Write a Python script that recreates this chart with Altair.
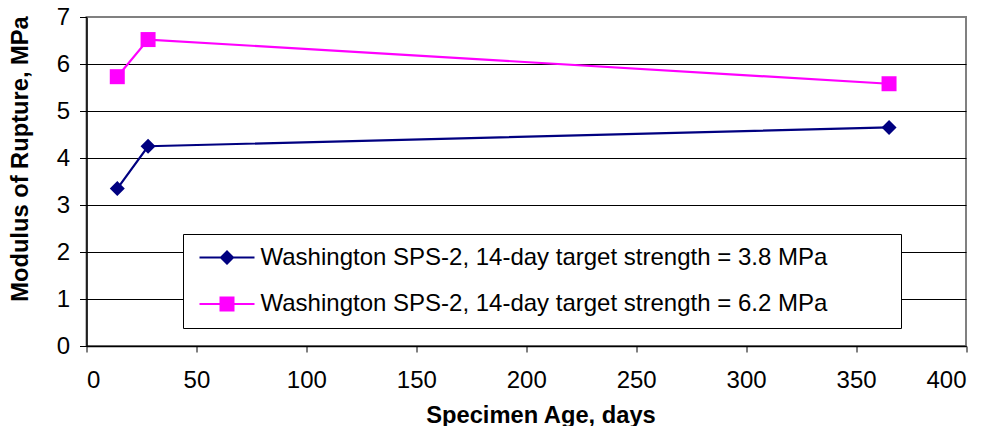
import altair as alt
import pandas as pd

ages = [14, 28, 365]
series_names = [
    "Washington SPS-2, 14-day target strength = 3.8 MPa",
    "Washington SPS-2, 14-day target strength = 6.2 MPa",
]
mor_38 = [3.35, 4.25, 4.65]
mor_62 = [5.73, 6.52, 5.58]
x_ticks = [0, 50, 100, 150, 200, 250, 300, 350, 400]
y_ticks = [0, 1, 2, 3, 4, 5, 6, 7]
colors = ["#000080", "#FF00FF"]
marker_shapes = ["diamond", "square"]

rows = []
for a, v in zip(ages, mor_38):
    rows.append({"age": a, "mor": v, "series": series_names[0]})
for a, v in zip(ages, mor_62):
    rows.append({"age": a, "mor": v, "series": series_names[1]})
df = pd.DataFrame(rows)

FONT = "Liberation Sans"
FS = 24
FT = 23.7

line_bar = "M-3.667,-0.14H3.667V0.14H-3.667Z"
diamond_sym = line_bar + " M-1,0L0,-1L1,0L0,1Z"
square_sym = line_bar + " M-1,-1H1V1H-1Z"
pad_tail = "\u00a0" * 9 + "\u200a" + "\u200b"

x_enc = alt.X(
    "age:Q",
    scale=alt.Scale(domain=[0, 400], nice=False),
    axis=alt.Axis(
        values=x_ticks,
        title="Specimen Age, days",
        titleFont=FONT, titleFontSize=FT, titleFontWeight="bold", titleColor="black",
        titleX=454, titleY=69, titleBaseline="middle", titleAlign="center",
        labelFont=FONT, labelFontSize=FS, labelColor="black", labelPadding=16,
        labelBaseline="top",
        tickSize=6, tickColor="black", domainColor="black", domainWidth=1.5,
        grid=False,
    ),
)
y_enc = alt.Y(
    "mor:Q",
    scale=alt.Scale(domain=[0, 7], nice=False),
    axis=alt.Axis(
        values=y_ticks,
        title="Modulus of Rupture, MPa",
        titleFont=FONT, titleFontSize=FT, titleFontWeight="bold", titleColor="black",
        titleX=-66, titleY=141.5, titleBaseline="middle", titleAlign="center", titleAngle=270,
        labelFont=FONT, labelFontSize=FS, labelColor="black", labelPadding=10,
        tickSize=7, tickColor="black", domainColor="black", domainWidth=1.5,
        grid=True,
        gridColor={"condition": {"test": "datum.value === 7", "value": "#808080"}, "value": "black"},
        gridWidth=1,
    ),
)

legend_cfg = alt.Legend(
    orient="none", legendX=96.5, legendY=217, title=None,
    padding=11.5, rowPadding=22.5,
    strokeColor="black", fillColor="white",
    labelFont=FONT, labelFontSize=FS, labelColor="black", labelLimit=900,
    labelExpr="datum.label + '" + pad_tail + "'",
    symbolSize=225, symbolOffset=20.5, labelOffset=21.5,
    symbolStrokeWidth=0, symbolOpacity=1,
)

series_layers = []
for name, col, shp in zip(series_names, colors, marker_shapes):
    base = alt.Chart(df).transform_filter(alt.datum.series == name)
    series_layers.append(
        base.mark_line(strokeWidth=2.2, color=col).encode(x=x_enc, y=y_enc)
    )
    series_layers.append(
        base.mark_point(filled=True, size=225, opacity=1, shape=shp, color=col).encode(x=x_enc, y=y_enc)
    )

# legend-only layer: zero-size symbols, only its legend is visible
legend_layer = (
    alt.Chart(df)
    .mark_point(filled=True, size=0)
    .encode(
        x=x_enc,
        y=y_enc,
        fill=alt.Fill("series:N", scale=alt.Scale(domain=series_names, range=colors), legend=legend_cfg),
        shape=alt.Shape("series:N", scale=alt.Scale(domain=series_names, range=[diamond_sym, square_sym]), legend=legend_cfg),
    )
)

chart = (
    alt.layer(*series_layers, legend_layer)
    .properties(
        width=879.5,
        height=329,
        padding={"left": 78.5, "top": 9, "right": 19, "bottom": 80},
        autosize=alt.AutoSizeParams(type="none"),
        background="white",
    )
    .configure_view(stroke="#808080", strokeWidth=2)
)

chart.save("out.html", embed_options={"renderer": "svg", "actions": False})
